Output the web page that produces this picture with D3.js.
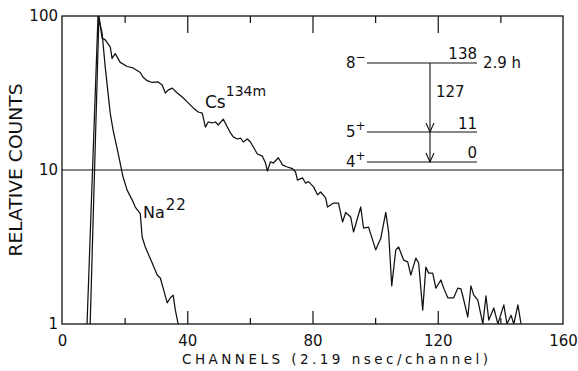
<!DOCTYPE html>
<html>
<head>
<meta charset="utf-8">
<script src="https://cdn.jsdelivr.net/npm/d3@7"></script>
<style>
  body { margin: 0; background: #fff; }
  svg { display: block; }
  text { font-family: "DejaVu Sans", sans-serif; fill: #111; }
  .axis path { display: none; }
  .axis line { stroke: #111; stroke-width: 1.2; }
  .axis text { font-size: 15px; }
  .curve { fill: none; stroke: #111; stroke-width: 1.25; stroke-linejoin: round; }
</style>
</head>
<body>
<svg id="chart" width="578" height="371"></svg>
<script>
// Cs-134m delayed spectrum (channel, relative counts)
const csChannels = [
  9.0, 11.8, 12.8, 13.8, 15.4, 16.0, 17.0, 18.6, 20.8, 22.7,
  25.0, 25.9, 27.2, 28.8, 30.7, 32.0, 33.0, 33.9, 35.2, 36.8,
  38.4, 40.0, 41.9, 43.5, 44.8, 45.8, 46.7, 48.0, 49.0, 49.9,
  51.5, 52.8, 53.8, 54.7, 56.0, 57.0, 57.9, 59.2, 60.2, 61.1,
  62.4, 64.0, 65.0, 65.6, 66.6, 67.5, 69.1, 70.4, 71.7, 73.6,
  74.6, 75.2, 76.8, 77.8, 78.7, 80.3, 81.6, 82.6, 84.2, 84.8,
  86.7, 88.3, 89.6, 90.6, 92.2, 93.1, 95.4, 96.3, 97.9, 100.2,
  101.8, 103.4, 104.3, 105.3, 106.6, 107.5, 109.1, 110.4, 111.4, 113.0,
  113.9, 115.2, 116.2, 117.1, 118.4, 119.4, 121.0, 121.9, 123.2, 125.1,
  126.4, 127.4, 128.0, 129.6, 130.6, 131.5, 132.8, 134.4, 135.4, 136.3,
  137.9, 139.2, 141.1, 142.1, 143.4, 144.3, 145.6, 146.6
];
const csCounts = [
  1, 100, 72, 70, 63, 53, 57, 50, 47, 46,
  43, 40, 38, 37, 37.3, 35.6, 31.6, 33, 34, 31.6,
  29.8, 27.7, 25.3, 23.8, 23.4, 19.0, 20.5, 20.2, 20.5, 19.6,
  21.4, 19.0, 17.4, 16.4, 15.9, 16.1, 15.2, 15.9, 15.2, 14.1,
  12.7, 12.3, 11.1, 9.85, 11.3, 11.1, 12.0, 10.8, 10.5, 10.2,
  9.7, 8.6, 8.9, 8.2, 8.4, 7.8, 6.9, 7.2, 6.6, 5.75,
  6.1, 6.1, 4.6, 5.3, 4.95, 3.96, 5.75, 4.2, 4.26, 3.03,
  3.6, 5.3, 3.96, 1.77, 3.03, 3.16, 2.6, 2.53, 2.08, 2.68,
  2.49, 1.23, 2.34, 2.14, 2.14, 1.71, 1.93, 1.71, 1.48, 1.48,
  1.71, 1.69, 1.52, 1.11, 1.77, 1.54, 1.43, 1, 1.52, 1.06,
  1.27, 1, 1.33, 1, 1.14, 1, 1.33, 1
];

// Na-22 prompt curve
const naChannels = [8.0, 11.5, 12.8, 13.8, 15.4, 16.3, 17.9, 19.5, 20.8, 22.4, 23.4, 25.0,
                    25.6, 26.6, 28.8, 30.4, 31.4, 32.3, 33.6, 34.6, 35.5, 36.2, 37.1];
const naCounts = [1, 100, 77.6, 46.7, 23.4, 18.2, 12.9, 9.0, 7.4, 6.4, 5.75, 5.2,
                  3.67, 3.16, 2.49, 2.08, 1.99, 1.71, 1.37, 1.48, 1.54, 1.23, 1];

const xLabelTicks = [0, 40, 80, 120, 160];
const xMajorTicks = [40, 80, 120];
const xMinorTicks = [20, 60, 100, 140];
const yTicks = [1, 10, 100];

const svg = d3.select('#chart');
const box = { left: 62, right: 563, top: 16, bottom: 324 };

const x = d3.scaleLinear().domain([0, 160]).range([box.left, box.right]);
const y = d3.scaleLog().domain([1, 100]).range([box.bottom, box.top]);

svg.append('defs').append('clipPath').attr('id', 'plot')
  .append('rect').attr('x', box.left).attr('y', box.top)
  .attr('width', box.right - box.left).attr('height', box.bottom - box.top);

// bottom axis: labels + inward ticks
svg.append('g').attr('class', 'axis')
  .attr('transform', 'translate(0,' + box.bottom + ')')
  .call(d3.axisBottom(x).tickValues(xLabelTicks).tickSize(0).tickPadding(11).tickFormat(d3.format('d')));
svg.append('g').attr('class', 'axis')
  .attr('transform', 'translate(0,' + box.bottom + ')')
  .call(d3.axisBottom(x).tickValues(xMajorTicks).tickSize(-13).tickFormat(''));
svg.append('g').attr('class', 'axis')
  .attr('transform', 'translate(0,' + box.bottom + ')')
  .call(d3.axisBottom(x).tickValues(xMinorTicks).tickSize(-6).tickFormat(''));
// top ticks
svg.append('g').attr('class', 'axis')
  .attr('transform', 'translate(0,' + box.top + ')')
  .call(d3.axisTop(x).tickValues(xMajorTicks).tickSize(-17).tickFormat(''));
svg.append('g').attr('class', 'axis')
  .attr('transform', 'translate(0,' + box.top + ')')
  .call(d3.axisTop(x).tickValues(xMinorTicks).tickSize(-7).tickFormat(''));

// left axis labels
svg.append('g').attr('class', 'axis')
  .attr('transform', 'translate(' + box.left + ',0)')
  .call(d3.axisLeft(y).tickValues(yTicks).tickSize(0).tickPadding(4).tickFormat(d3.format('d')));

// frame
svg.append('rect')
  .attr('x', box.left).attr('y', box.top)
  .attr('width', box.right - box.left).attr('height', box.bottom - box.top)
  .attr('fill', 'none').attr('stroke', '#111').attr('stroke-width', 1.3);

// reference line at 10
svg.append('line')
  .attr('x1', box.left).attr('x2', box.right)
  .attr('y1', y(10)).attr('y2', y(10))
  .attr('stroke', '#111').attr('stroke-width', 1.2);

const line = d3.line().x(d => x(d[0])).y(d => y(d[1]));
const plot = svg.append('g').attr('clip-path', 'url(#plot)');
plot.append('path').attr('class', 'curve').attr('d', line(d3.zip(naChannels, naCounts)));
plot.append('path').attr('class', 'curve').attr('d', line(d3.zip(csChannels, csCounts)));

// curve labels
const cs = svg.append('text').attr('x', 205).attr('y', 108).style('font-size', '17px');
cs.append('tspan').text('Cs');
cs.append('tspan').attr('dy', -12).style('font-size', '14px').text('134m');

const na = svg.append('text').attr('x', 143).attr('y', 218).style('font-size', '16px');
na.append('tspan').text('Na');
na.append('tspan').attr('dy', -8).attr('dx', 1).style('font-size', '15px').style('letter-spacing', '1px').text('22');

// axis titles
svg.append('text')
  .attr('x', 335).attr('y', 364)
  .attr('text-anchor', 'middle')
  .attr('textLength', 306).attr('lengthAdjust', 'spacing')
  .style('font-size', '13.5px')
  .text('CHANNELS  (2.19 nsec/channel)');

svg.append('text')
  .attr('transform', 'translate(22,170) rotate(-90)')
  .attr('text-anchor', 'middle')
  .attr('textLength', 173).attr('lengthAdjust', 'spacingAndGlyphs')
  .style('font-size', '18px')
  .text('RELATIVE COUNTS');

// level scheme inset
const lv = svg.append('g').style('font-size', '15px');
const levels = [
  { y: 63, spin: '8', sign: '\u2212', energy: '138', ey: 59 },
  { y: 132, spin: '5', sign: '+', energy: '11', ey: 129 },
  { y: 162, spin: '4', sign: '+', energy: '0', ey: 158 }
];
const lx0 = 367, lx1 = 477, ax = 430;
levels.forEach(l => {
  lv.append('line').attr('x1', lx0).attr('x2', lx1).attr('y1', l.y).attr('y2', l.y)
    .attr('stroke', '#111').attr('stroke-width', 1.1);
  const t = lv.append('text').attr('x', 346).attr('y', l.y + 5);
  t.append('tspan').text(l.spin);
  t.append('tspan').attr('dy', -7).style('font-size', '12px').text(l.sign);
  lv.append('text').attr('x', lx1).attr('y', l.ey).attr('text-anchor', 'end').text(l.energy);
});
lv.append('text').attr('x', 483).attr('y', 68).text('2.9 h');
lv.append('text').attr('x', 436).attr('y', 97).text('127');
lv.append('line').attr('x1', ax).attr('x2', ax).attr('y1', 63).attr('y2', 162)
  .attr('stroke', '#111').attr('stroke-width', 1.1);
[132, 162].forEach(tip => {
  lv.append('path')
    .attr('d', 'M' + (ax - 4) + ',' + (tip - 9) + 'L' + ax + ',' + tip + 'L' + (ax + 4) + ',' + (tip - 9))
    .attr('fill', 'none').attr('stroke', '#111').attr('stroke-width', 1.1);
});
</script>
</body>
</html>
